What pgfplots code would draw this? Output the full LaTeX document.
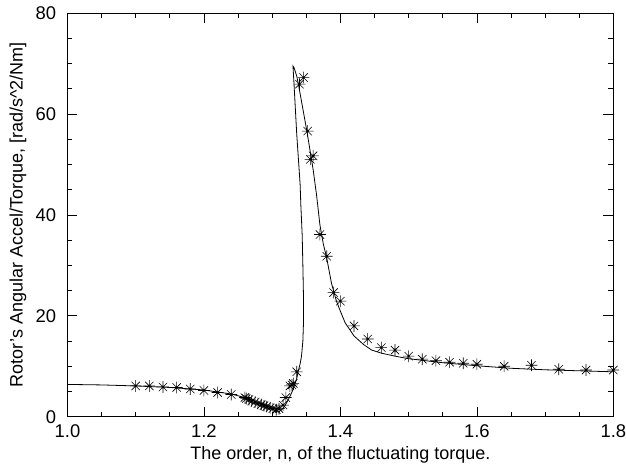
\documentclass[border=0pt]{standalone}
\usepackage{fontspec}
\setmainfont{Liberation Sans}
\usepackage{pgfplots}
\pgfplotsset{compat=1.18}
\usepackage{pgfplotstable}
\pgfdeclareplotmark{ast8}{%
  \pgfpathmoveto{\pgfqpoint{-\pgfplotmarksize}{0pt}}\pgfpathlineto{\pgfqpoint{\pgfplotmarksize}{0pt}}%
  \pgfpathmoveto{\pgfqpoint{0pt}{-\pgfplotmarksize}}\pgfpathlineto{\pgfqpoint{0pt}{\pgfplotmarksize}}%
  \pgfpathmoveto{\pgfqpoint{-0.707\pgfplotmarksize}{-0.707\pgfplotmarksize}}\pgfpathlineto{\pgfqpoint{0.707\pgfplotmarksize}{0.707\pgfplotmarksize}}%
  \pgfpathmoveto{\pgfqpoint{-0.707\pgfplotmarksize}{0.707\pgfplotmarksize}}\pgfpathlineto{\pgfqpoint{0.707\pgfplotmarksize}{-0.707\pgfplotmarksize}}%
  \pgfusepathqstroke}
\pgfplotstableread{
x y
1.000 6.4
1.050 6.3
1.100 6.1
1.150 5.8
1.200 5.3
1.240 4.5
1.260 3.8
1.280 2.8
1.295 2.0
1.302 1.4
1.306 1.0
1.310 1.0
1.314 1.4
1.318 2.0
1.322 3.0
1.326 4.0
1.330 5.2
1.333 6.3
1.336 7.6
1.338 8.9
1.341 10.5
1.343 12.0
1.345 15.0
1.346 19.0
1.346 23.0
1.345 30.0
1.344 36.0
1.342 42.0
1.341 46.0
1.338 52.0
1.336 56.0
1.334 61.0
1.332 66.0
1.3305 69.5
1.3320 69.2
1.336 67.5
1.339 65.5
1.345 61.0
1.351 56.5
1.355 53.2
1.360 49.0
1.365 44.0
1.370 38.0
1.375 34.2
1.380 31.4
1.387 26.4
1.394 23.0
1.400 20.9
1.407 18.6
1.420 16.0
1.434 14.3
1.446 13.2
1.460 12.6
1.480 12.0
1.500 11.5
1.550 10.7
1.600 10.1
1.650 9.6
1.700 9.3
1.750 9.1
1.800 8.9
}\curve
\pgfplotstableread{
x y
1.100 6.1
1.120 6.1
1.140 5.9
1.160 5.8
1.180 5.5
1.200 5.2
1.220 4.8
1.240 4.4
1.260 3.8
1.262 3.6
1.266 3.4
1.270 3.1
1.275 2.9
1.279 2.6
1.284 2.4
1.288 2.2
1.292 2.0
1.297 1.8
1.301 1.6
1.306 1.4
1.310 1.6
1.316 2.3
1.320 3.8
1.326 6.1
1.329 6.3
1.331 6.6
1.336 8.9
1.340 65.9
1.346 67.2
1.352 56.6
1.356 51.0
1.360 51.7
1.370 36.1
1.380 31.8
1.390 24.6
1.400 22.9
1.420 18.0
1.440 15.4
1.460 13.7
1.480 13.2
1.500 12.0
1.520 11.4
1.540 11.1
1.560 10.8
1.580 10.6
1.600 10.4
1.640 10.0
1.680 10.2
1.720 9.4
1.760 9.25
1.800 9.25
}\meas
\begin{document}
\begin{tikzpicture}
\begin{axis}[
  scale only axis,
  width=409.4pt, height=302.8pt,
  xmin=1.0, xmax=1.8, ymin=0, ymax=80,
  xtick={1.0,1.2,1.4,1.6,1.8},
  ytick={0,20,40,60,80},
  minor x tick num=3, minor y tick num=3,
  tick align=inside,
  major tick length=7.5pt, minor tick length=3.7pt,
  axis line style={line width=0.6pt},
  every tick/.style={black, line width=0.5pt},
  xticklabel style={/pgf/number format/.cd, fixed, fixed zerofill, precision=1, /tikz/.cd},
  /pgf/number format/assume math mode=true,
  tick label style={font=\fontsize{13.8pt}{16pt}\selectfont},
  label style={font=\fontsize{13.5pt}{16pt}\selectfont},
  xlabel={The order, n, of the fluctuating torque.},
  ylabel={Rotor's Angular Accel/Torque, [rad/s\textasciicircum 2/Nm]},
  xlabel style={yshift=0pt},
  ylabel style={yshift=0pt},
  xticklabel style={yshift=-2.5pt},
  yticklabel style={xshift=-5pt},
]
\addplot[black, line width=0.6pt, no markers] table {\curve};
\addplot[black, line width=0.45pt, only marks, mark=ast8, mark size=4.4pt] table {\meas};
\end{axis}
\pgfresetboundingbox
\path ([shift={(-50.6pt,-37pt)}]current axis.south west) rectangle ([shift={(9.5pt,9.75pt)}]current axis.north east);
\end{tikzpicture}
\end{document}
